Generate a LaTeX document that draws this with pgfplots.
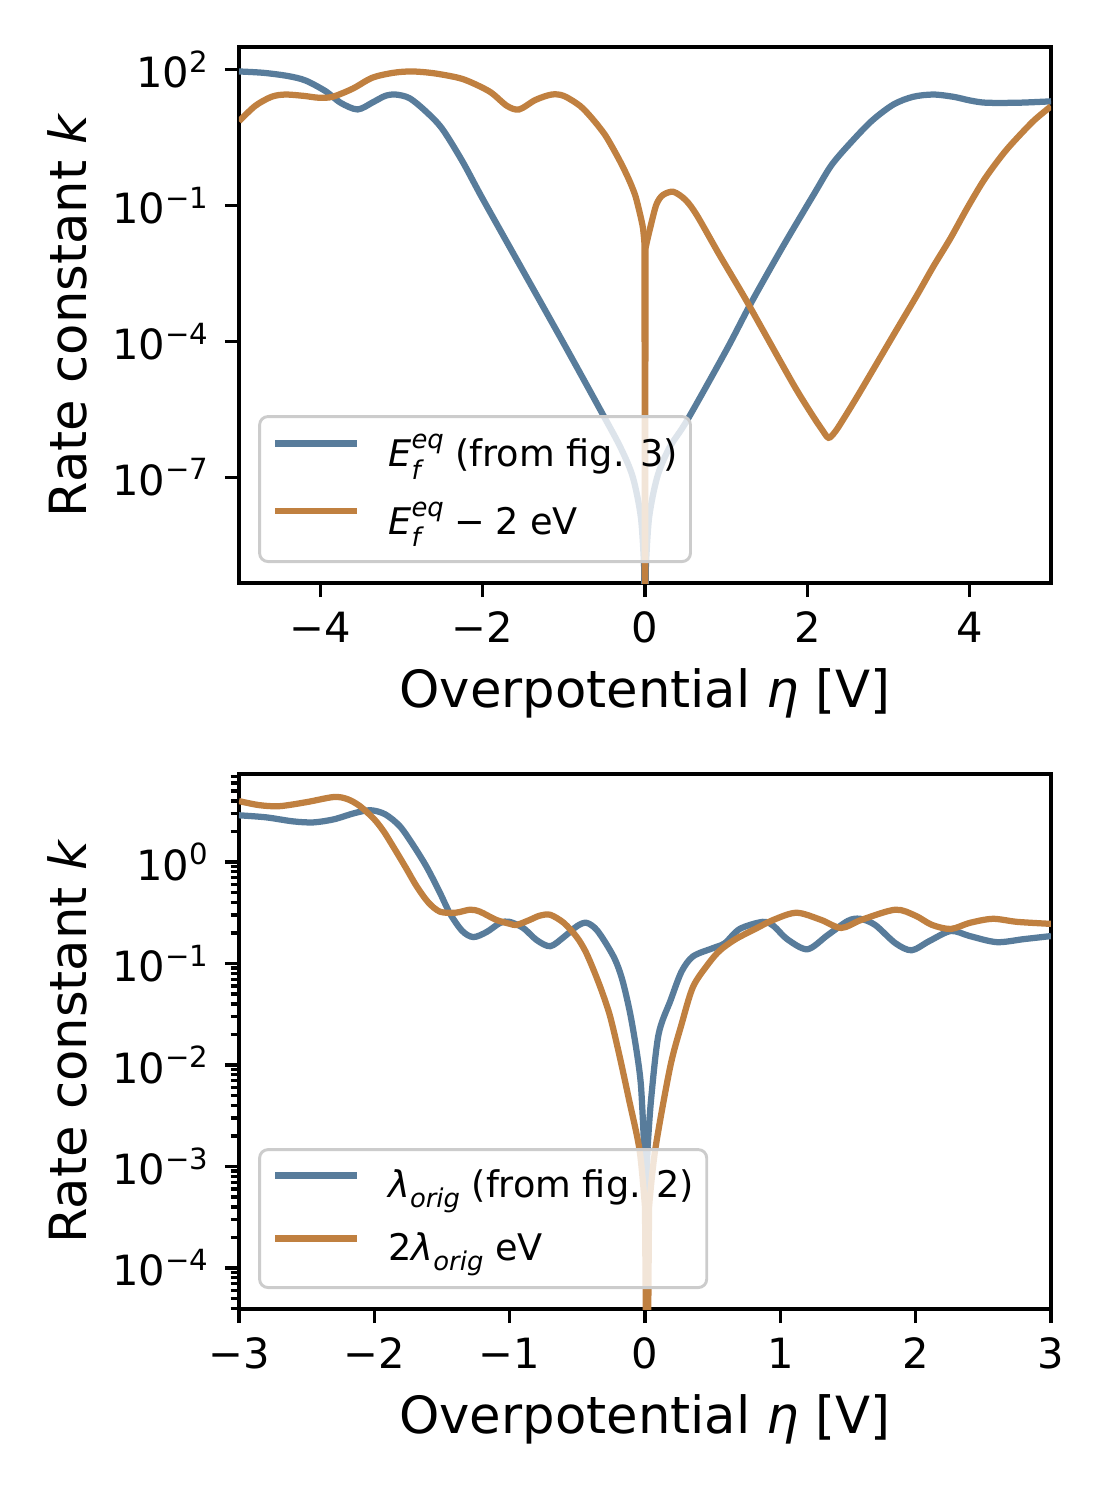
\documentclass[border=0pt]{standalone}
\usepackage{pgfplots}
\usepackage{pgfplotstable}
\pgfplotsset{compat=1.18}
\usepackage{fontspec}
\setmainfont{DejaVu Sans}
\definecolor{cblue}{RGB}{88,124,155}
\definecolor{corange}{RGB}{192,128,64}
\newcommand{\supsub}[2]{\makebox[0pt][l]{\raisebox{-0.34em}{\fontsize{6.2pt}{7pt}\selectfont #2}}\raisebox{0.5em}{\fontsize{6.2pt}{7pt}\selectfont #1}}
\newcommand{\sub}[1]{\raisebox{-0.28em}{\fontsize{6.2pt}{7pt}\selectfont #1}}

\pgfplotstableread[row sep=\\]{
x y\\
-5.0 91.2\\
-4.7 85.1\\
-4.4 72.4\\
-4.18 57.5\\
-3.93 33.1\\
-3.75 18.6\\
-3.54 13.2\\
-3.35 19.1\\
-3.2 26.3\\
-3.07 28.2\\
-2.9 23.4\\
-2.7 12.0\\
-2.5 5.01\\
-2.25 0.955\\
-2.0 0.1413\\
-1.5 3.548e-3\\
-1.0 8.913e-5\\
-0.53 2.630e-6\\
-0.3 4.467e-7\\
-0.15 1.0e-7\\
-0.05 1.259e-8\\
-0.01 1.0e-9\\
0 1e-11\\
0.01 1.0e-9\\
0.05 1.259e-8\\
0.15 1.0e-7\\
0.3 4.467e-7\\
0.52 1.820e-6\\
1.0 6.31e-5\\
1.31 7.244e-4\\
1.7 1.259e-2\\
2.09 0.1905\\
2.3 0.794\\
2.55 2.63\\
2.8 7.59\\
3.06 17.0\\
3.3 25.1\\
3.55 28.2\\
3.8 25.1\\
4.0 20.9\\
4.2 18.6\\
4.6 18.6\\
5.0 19.95\\
}\topblue

\pgfplotstableread[row sep=\\]{
x y\\
-5.0 7.24\\
-4.8 15.85\\
-4.6 25.1\\
-4.43 28.2\\
-4.2 26.3\\
-4.02 24.0\\
-3.85 25.1\\
-3.6 38.0\\
-3.36 66.1\\
-3.1 85.1\\
-2.87 91.2\\
-2.6 83.2\\
-2.3 66.1\\
-2.13 51.3\\
-1.9 31.6\\
-1.7 15.85\\
-1.55 13.2\\
-1.35 21.4\\
-1.15 28.2\\
-1.0 26.3\\
-0.8 15.85\\
-0.65 8.32\\
-0.5 3.80\\
-0.4 1.905\\
-0.3 0.891\\
-0.2 0.380\\
-0.12 0.166\\
-0.06 0.0631\\
-0.025 0.0316\\
-0.006 0.01413\\
0 1e-12\\
0.006 0.0112\\
0.03 0.0178\\
0.07 0.0355\\
0.14 0.105\\
0.22 0.170\\
0.35 0.200\\
0.5 0.132\\
0.64 0.0603\\
0.92 7.94e-3\\
1.21 1.047e-3\\
1.42 2.239e-4\\
1.83 1.096e-5\\
2.05 2.512e-6\\
2.18 1.122e-6\\
2.26 7.41e-7\\
2.34 1.0e-6\\
2.45 2.0e-6\\
2.65 7.76e-6\\
3.06 1.38e-4\\
3.35 1.047e-3\\
3.55 4.467e-3\\
3.76 0.01862\\
3.97 0.0891\\
4.17 0.355\\
4.35 1.0\\
4.5 2.138\\
4.78 7.244\\
5.0 15.5\\
}\toporange

\pgfplotstableread[row sep=\\]{
x y\\
-3.0 2.884\\
-2.8 2.754\\
-2.6 2.512\\
-2.45 2.455\\
-2.3 2.630\\
-2.15 3.020\\
-2.03 3.236\\
-1.92 2.951\\
-1.81 2.239\\
-1.71 1.445\\
-1.613 0.8913\\
-1.52 0.5129\\
-1.44 0.3090\\
-1.35 0.2089\\
-1.268 0.1820\\
-1.17 0.2042\\
-1.07 0.2512\\
-1.0 0.2570\\
-0.9 0.2239\\
-0.8 0.1698\\
-0.70 0.1479\\
-0.6 0.1820\\
-0.5 0.2344\\
-0.43 0.2512\\
-0.35 0.2089\\
-0.233 0.1175\\
-0.17 0.07079\\
-0.11 0.03236\\
-0.06 0.01318\\
-0.03 6.31e-3\\
-0.01 1.995e-3\\
0.005 4.677e-4\\
0.02 1.585e-3\\
0.045 4.571e-3\\
0.1 0.01995\\
0.19 0.04365\\
0.27 0.08318\\
0.355 0.1175\\
0.5 0.1413\\
0.59 0.1585\\
0.7 0.2188\\
0.87 0.2570\\
0.95 0.2344\\
1.05 0.1738\\
1.2 0.1380\\
1.35 0.1905\\
1.5 0.2630\\
1.59 0.2754\\
1.7 0.2399\\
1.85 0.1585\\
1.97 0.1349\\
2.1 0.1660\\
2.26 0.2089\\
2.4 0.1862\\
2.6 0.1622\\
2.8 0.1738\\
3.0 0.1862\\
}\botblue

\pgfplotstableread[row sep=\\]{
x y\\
-3.0 3.981\\
-2.85 3.631\\
-2.7 3.548\\
-2.5 3.890\\
-2.3 4.365\\
-2.2 4.169\\
-2.106 3.548\\
-2.0 2.630\\
-1.93 1.995\\
-1.86 1.413\\
-1.77 0.8913\\
-1.687 0.5754\\
-1.6 0.3981\\
-1.514 0.3236\\
-1.4 0.3162\\
-1.293 0.3388\\
-1.219 0.3236\\
-1.1 0.2692\\
-0.997 0.2455\\
-0.948 0.2399\\
-0.85 0.2692\\
-0.78 0.2951\\
-0.701 0.3020\\
-0.6 0.2512\\
-0.504 0.1820\\
-0.44 0.1318\\
-0.381 0.0871\\
-0.32 0.0537\\
-0.258 0.0302\\
-0.19 0.01259\\
-0.12 4.677e-3\\
-0.04 1.445e-3\\
0.0 3.98e-4\\
0.015 1e-6\\
0.03 3.98e-4\\
0.075 1.445e-3\\
0.186 9.55e-3\\
0.27 0.02512\\
0.355 0.05888\\
0.47 0.1\\
0.555 0.1349\\
0.67 0.1738\\
0.8 0.2138\\
0.95 0.2692\\
1.12 0.3162\\
1.3 0.2692\\
1.45 0.2239\\
1.6 0.2692\\
1.85 0.3388\\
2.0 0.2951\\
2.12 0.2399\\
2.26 0.2188\\
2.4 0.2512\\
2.57 0.2754\\
2.75 0.2570\\
3.0 0.2455\\
}\botorange

\pgfplotsset{
  myaxis/.style={
    scale only axis,
    width=194.88pt,
    axis line style={line width=0.8pt},
    every tick/.style={black, line width=0.8pt},
    tick align=outside,
    tick pos=left,
    major tick length=3.4pt,
    minor tick length=2pt,
    tick label style={font=\fontsize{10pt}{12pt}\selectfont},
    label style={font=\fontsize{12.3pt}{14pt}\selectfont},
    xlabel={Overpotential \textit{η} [V]},
    ylabel={Rate constant \textit{k}},
    ylabel style={at={(axis description cs:-0.2114,0.5)}, anchor=center, rotate=0},
    legend cell align=left,
    legend image code/.code={\draw[##1] (0pt,2.8pt) -- (19.7pt,2.8pt);},
    legend style={at={(0,0)}, anchor=south west, xshift=4.6pt, yshift=4.8pt,
      draw=black!20, line width=0.7pt, rounded corners=2pt,
      fill=white, fill opacity=0.8, draw opacity=1, text opacity=1,
      inner xsep=3pt, inner ysep=3.5pt, column sep=6.7pt,
      font=\fontsize{8.8pt}{10pt}\selectfont},
  },
  cb/.style={cblue, line width=1.5pt},
  co/.style={corange, line width=1.5pt},
  sm/.style={smooth, tension=0.5},
}

\begin{document}
\begin{tikzpicture}
\path[use as bounding box] (0,0) rectangle (266.4pt,360pt);
\begin{axis}[ymode=log, myaxis,
  at={(57.36pt,220.08pt)}, anchor=south west,
  height=128.64pt,
  xmin=-5, xmax=5, ymin=4.6e-10, ymax=316,
  xtick={-4,-2,0,2,4}, xticklabels={−4,−2,0,2,4},
  ytick={1e-7,1e-4,1e-1,1e2},
  yticklabels={10\textsuperscript{−7},10\textsuperscript{−4},10\textsuperscript{−1},10\textsuperscript{2}},
  minor ytick={},
  xlabel style={at={(axis description cs:0.5,-0.2068)}, anchor=center},
  legend style={row sep=4.8pt, nodes={inner sep=0pt, text height=8.5pt, text depth=3pt}},
]
\addplot[cb, sm, restrict x to domain=-6:-0.009] table[x=x,y=y] {\topblue};
\addlegendentry{\textit{E}\supsub{\textit{eq}}{\textit{f}} (from fig. 3)}
\addplot[cb, forget plot, restrict x to domain=-0.011:0.011] table[x=x,y=y] {\topblue};
\addplot[cb, sm, forget plot, restrict x to domain=0.009:6] table[x=x,y=y] {\topblue};
\addplot[co, sm, restrict x to domain=-6:-0.005] table[x=x,y=y] {\toporange};
\addlegendentry{\textit{E}\supsub{\textit{eq}}{\textit{f}}\hspace{2.6pt}−\hspace{2.4pt}2 eV}
\addplot[co, forget plot, restrict x to domain=-0.007:0.007] table[x=x,y=y] {\toporange};
\addplot[co, sm, forget plot, restrict x to domain=0.005:6] table[x=x,y=y] {\toporange};
\end{axis}

\begin{axis}[ymode=log, myaxis,
  at={(57.36pt,45.84pt)}, anchor=south west,
  height=128.4pt,
  xmin=-3, xmax=3, ymin=3.94e-5, ymax=7.36,
  xtick={-3,-2,-1,0,1,2,3}, xticklabels={−3,−2,−1,0,1,2,3},
  ytick={1e-4,1e-3,1e-2,1e-1,1},
  yticklabels={10\textsuperscript{−4},10\textsuperscript{−3},10\textsuperscript{−2},10\textsuperscript{−1},10\textsuperscript{0}},
  minor ytick={4e-5,5e-5,6e-5,7e-5,8e-5,9e-5,2e-4,3e-4,4e-4,5e-4,6e-4,7e-4,8e-4,9e-4,2e-3,3e-3,4e-3,5e-3,6e-3,7e-3,8e-3,9e-3,2e-2,3e-2,4e-2,5e-2,6e-2,7e-2,8e-2,9e-2,0.2,0.3,0.4,0.5,0.6,0.7,0.8,0.9,2,3,4,5,6,7},
  xlabel style={at={(axis description cs:0.5,-0.2072)}, anchor=center},
  legend style={row sep=4.1pt, nodes={inner sep=0pt, text height=8pt, text depth=3pt}},
]
\addplot[cb, sm, restrict x to domain=-6:-0.009] table[x=x,y=y] {\botblue};
\addlegendentry{\textit{λ}\sub{\textit{orig}} (from fig. 2)}
\addplot[cb, forget plot, restrict x to domain=-0.011:0.021] table[x=x,y=y] {\botblue};
\addplot[cb, sm, forget plot, restrict x to domain=0.019:6] table[x=x,y=y] {\botblue};
\addplot[co, sm, restrict x to domain=-6:0.001] table[x=x,y=y] {\botorange};
\addlegendentry{2\textit{λ}\sub{\textit{orig}} eV}
\addplot[co, forget plot, restrict x to domain=-0.001:0.031] table[x=x,y=y] {\botorange};
\addplot[co, sm, forget plot, restrict x to domain=0.029:6] table[x=x,y=y] {\botorange};
\end{axis}
\end{tikzpicture}
\end{document}
